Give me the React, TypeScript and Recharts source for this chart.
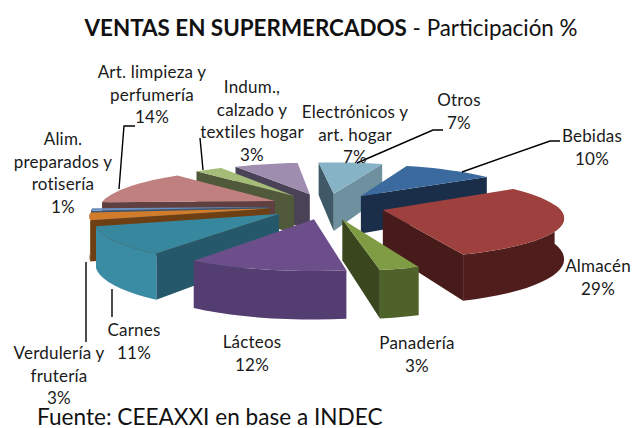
import React from 'react';
import { PieChart, Pie, Cell } from 'recharts';

const W = 636, H = 428;
const CX = 327, CY = 206, R = 175, SQUASH = 0.225, PERSP = 0.15, DEPTH = 39, EXPLODE = 0.33;
const START_ANGLE = 70.4;
const FONT = "Lato, 'Open Sans', sans-serif";

// Painted in two groups so that nearer slices cover farther ones.
const rightNames = ['Bebidas', 'Almacén', 'Panadería'];
const rightValues = [10, 29, 3];
const leftNames = ['Otros', 'Electrónicos y art. hogar', 'Indum., calzado y textiles hogar', 'Art. limpieza y perfumería', 'Alim. preparados y rotisería', 'Verdulería y frutería', 'Carnes', 'Lácteos'];
const leftValues = [7, 7, 3, 14, 1, 3, 11, 12];

const palette: Record<string, { top: string; wallA: string; wallB: string; rim: string }> = {
  'Bebidas': { top: '#3B6A9F', wallA: '#1A2E4A', wallB: '#1A2E4A', rim: '#1A2E4A' },
  'Almacén': { top: '#9E413E', wallA: '#471B19', wallB: '#471B19', rim: '#4F1E1C' },
  'Panadería': { top: '#7F9C45', wallA: '#39461E', wallB: '#39461E', rim: '#4F6229' },
  'Otros': { top: '#87B3C7', wallA: '#6F909E', wallB: '#3F5A66', rim: '#6F909E' },
  'Electrónicos y art. hogar': { top: '#9F8DB0', wallA: '#4A4358', wallB: '#4A4358', rim: '#4A4358' },
  'Indum., calzado y textiles hogar': { top: '#A4BC78', wallA: '#50593A', wallB: '#50593A', rim: '#50593A' },
  'Art. limpieza y perfumería': { top: '#C08080', wallA: '#5F3F3F', wallB: '#5F3F3F', rim: '#5F3F3F' },
  'Alim. preparados y rotisería': { top: '#6A8FBE', wallA: '#3D5570', wallB: '#3D5570', rim: '#3D5570' },
  'Verdulería y frutería': { top: '#D07C2B', wallA: '#6E3F12', wallB: '#6E3F12', rim: '#6E3F12' },
  'Carnes': { top: '#37879F', wallA: '#25586A', wallB: '#25586A', rim: '#3A8BA4' },
  'Lácteos': { top: '#6C4F8A', wallA: '#46335A', wallB: '#46335A', rim: '#543D70' },
};

const rightData = rightNames.map((name, i) => ({ name, value: rightValues[i] }));
const leftData = leftNames.map((name, i) => ({ name, value: leftValues[i] }));

type P = { x: number; y: number; k: number };
const project = (wx: number, wy: number): P => {
  const k = 1 / (1 - PERSP * wy);
  return { x: wx * R * k, y: wy * R * SQUASH * k, k };
};
const poly = (pts: [number, number][]) => 'M' + pts.map((p) => `${p[0].toFixed(1)},${p[1].toFixed(1)}`).join('L') + 'Z';

function Wedge3D(props: any) {
  const { cx, cy, outerRadius, startAngle, endAngle, fill, payload, name } = props;
  const colors = palette[payload?.name ?? name];
  const a0 = (Math.min(startAngle, endAngle) * Math.PI) / 180;
  const a1 = (Math.max(startAngle, endAngle) * Math.PI) / 180;
  const mid = (a0 + a1) / 2;
  const scale = outerRadius / R;
  const ex = Math.cos(mid) * EXPLODE, ey = -Math.sin(mid) * EXPLODE;
  const world = (u: number, a: number): P => project(ex + u * Math.cos(a), ey - u * Math.sin(a));
  const scr = (p: P, down = 0): [number, number] => [cx + p.x * scale, cy + p.y * scale + down * DEPTH * p.k];
  const n = Math.max(3, Math.ceil(((a1 - a0) * 180) / Math.PI / 4));
  const arc: { a: number; p: P }[] = [];
  for (let i = 0; i <= n; i++) { const a = a0 + ((a1 - a0) * i) / n; arc.push({ a, p: world(1, a) }); }
  const apex = world(0, mid);
  const midPt = world(0.5, mid);
  const top = [scr(apex), ...arc.map((q) => scr(q.p))];
  const wallFor = (b: P) => {
    const A = scr(apex), B = scr(b), M = scr(midPt);
    const dx = B[0] - A[0];
    if (Math.abs(dx) < 0.5) return null;
    const yAt = A[1] + ((M[0] - A[0]) * (B[1] - A[1])) / dx;
    if (yAt <= M[1]) return null;
    return poly([A, B, scr(b, 1), scr(apex, 1)]);
  };
  const w0 = wallFor(arc[0].p);
  const w1 = wallFor(arc[n].p);
  const rim = arc.filter((q) => -Math.sin(q.a) > -0.15);
  const rimPath = rim.length > 1
    ? poly([...rim.map((q) => scr(q.p)), ...rim.slice().reverse().map((q) => scr(q.p, 1))])
    : null;
  return (
    <g>
      {w0 && <path d={w0} fill={colors.wallA} />}
      {w1 && <path d={w1} fill={colors.wallB} />}
      {rimPath && <path d={rimPath} fill={colors.rim} />}
      <path d={poly(top)} fill={fill} />
    </g>
  );
}

const labelLines: Record<string, [number, number][]> = {
  'Bebidas': [[462, 172], [550, 141], [560, 141]],
  'Otros': [[357, 163], [433, 130], [443, 130]],
  'Art. limpieza y perfumería': [[119, 189], [124, 126], [135, 126]],
  'Indum., calzado y textiles hogar': [[203, 170], [200, 138]],
  'Verdulería y frutería': [[86, 262], [86, 342]],
  'Carnes': [[112, 289], [112, 317]],
};
const labelLayout: Record<string, { x: number; y: number; lines: string[] }> = {
  'Bebidas': { x: 592, y: 142, lines: ['Bebidas', '10%'] },
  'Almacén': { x: 598, y: 272, lines: ['Almacén', '29%'] },
  'Panadería': { x: 417, y: 349, lines: ['Panadería', '3%'] },
  'Lácteos': { x: 252, y: 348, lines: ['Lácteos', '12%'] },
  'Carnes': { x: 134, y: 336, lines: ['Carnes', '11%'] },
  'Verdulería y frutería': { x: 59, y: 359, lines: ['Verdulería y', 'frutería', '3%'] },
  'Alim. preparados y rotisería': { x: 63, y: 145, lines: ['Alim.', 'preparados y', 'rotisería', '1%'] },
  'Art. limpieza y perfumería': { x: 152, y: 78, lines: ['Art. limpieza y', 'perfumería', '14%'] },
  'Indum., calzado y textiles hogar': { x: 252, y: 93, lines: ['Indum.,', 'calzado y', 'textiles hogar', '3%'] },
  'Electrónicos y art. hogar': { x: 355, y: 118, lines: ['Electrónicos y', 'art. hogar', '7%'] },
  'Otros': { x: 459, y: 106, lines: ['Otros', '7%'] },
};

function SliceLabel(props: any) {
  const name: string = props.name ?? props.payload?.name;
  const l = labelLayout[name];
  const pts = labelLines[name];
  if (!l) return null;
  return (
    <g>
      {pts && <polyline points={pts.map((p) => p.join(',')).join(' ')} fill="none" stroke="#000" strokeWidth={1.4} />}
      <text x={l.x} y={l.y} textAnchor="middle" fontFamily={FONT} fontSize={17} letterSpacing={0.2} fill="#1a1a1a">
        {l.lines.map((t, i) => <tspan key={i} x={l.x} dy={i === 0 ? 0 : 22.7}>{t}</tspan>)}
      </text>
    </g>
  );
}

export default function App() {
  const rightSpan = (rightValues.reduce((a, b) => a + b, 0) / 100) * 360;
  const leftSpan = (leftValues.reduce((a, b) => a + b, 0) / 100) * 360;
  return (
    <div style={{ position: 'absolute', left: 0, top: 0, width: W, height: H, background: '#fff', overflow: 'hidden' }}>
      <PieChart width={W} height={H} margin={{ top: 0, left: 0, right: 0, bottom: 0 }}>
        <Pie data={leftData} dataKey="value" nameKey="name" cx={CX} cy={CY} outerRadius={R} startAngle={START_ANGLE} endAngle={START_ANGLE + leftSpan}
          isAnimationActive={false} shape={Wedge3D} label={SliceLabel} labelLine={false} stroke="none">
          {leftNames.map((n) => <Cell key={n} fill={palette[n].top} />)}
        </Pie>
        <Pie data={rightData} dataKey="value" nameKey="name" cx={CX} cy={CY} outerRadius={R} startAngle={START_ANGLE} endAngle={START_ANGLE - rightSpan}
          isAnimationActive={false} shape={Wedge3D} label={SliceLabel} labelLine={false} stroke="none">
          {rightNames.map((n) => <Cell key={n} fill={palette[n].top} />)}
        </Pie>
      </PieChart>
      <div style={{ position: 'absolute', left: 0, width: 662, top: 14, textAlign: 'center', fontFamily: FONT, fontSize: 22.4, color: '#111', whiteSpace: 'nowrap' }}>
        <b>VENTAS EN SUPERMERCADOS</b> - Participación %
      </div>
      <div style={{ position: 'absolute', left: 37, top: 406, height: 22, lineHeight: '22px', fontFamily: FONT, fontSize: 22.6, color: '#111', whiteSpace: 'nowrap' }}>
        Fuente: CEEAXXI en base a INDEC
      </div>
    </div>
  );
}
